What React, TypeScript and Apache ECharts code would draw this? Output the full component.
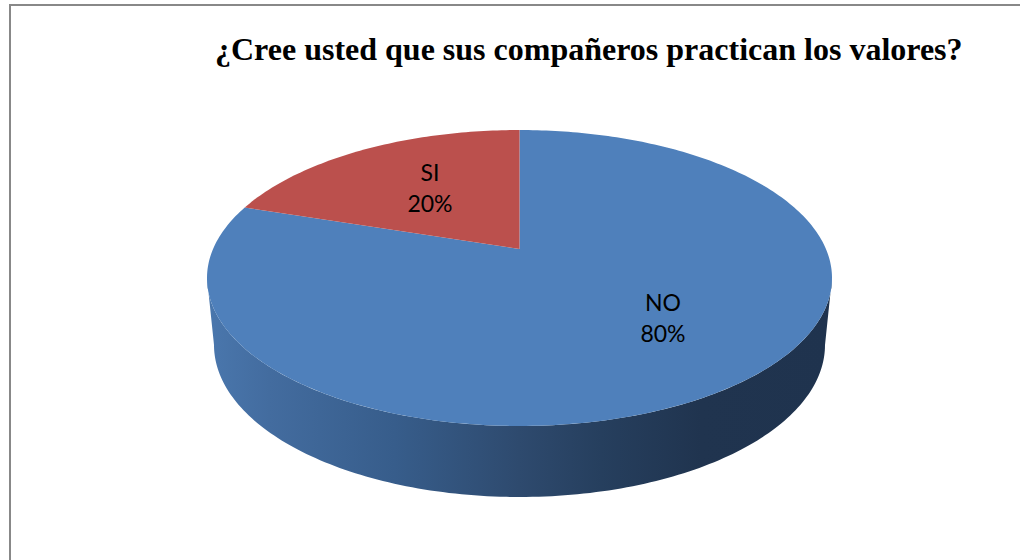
import React, { useEffect, useRef } from "react";
import * as echarts from "echarts";

const titleText = "¿Cree usted que sus compañeros practican los valores?";
const categories = ["NO", "SI"];
const shares = [80, 20];
const sliceColors = ["#4f80bb", "#bb504d"];

// Geometry of the tilted disc
const TOP = { cx: 519.5, cy: 278, rx: 312.5, ry: 148 };
const BOTTOM = { cx: 519.5, cy: 345, rx: 305.5, ry: 152 };
const TILT = -0.196; // where the disc's centre falls inside the ellipse
const LABEL_AT: Record<string, [number, number]> = { NO: [663, 317], SI: [430, 187] };

type Ell = typeof TOP;

function project(theta: number, r: number, e: Ell): [number, number] {
  const X = r * Math.sin(theta);
  const Y = -r * Math.cos(theta);
  const d = 1 + TILT * Y;
  const u = (X * Math.sqrt(1 - TILT * TILT)) / d;
  const v = (Y + TILT) / d;
  return [e.cx + u * e.rx, e.cy + v * e.ry];
}

function arc(a: number, b: number, e: Ell): [number, number][] {
  const n = Math.max(2, Math.ceil((Math.abs(b - a) * 180) / Math.PI));
  const pts: [number, number][] = [];
  for (let i = 0; i <= n; i++) pts.push(project(a + ((b - a) * i) / n, 1, e));
  return pts;
}

const total = shares.reduce((s, v) => s + v, 0);

function renderSlice(params: any) {
  const i = params.dataIndex;
  const before = shares.slice(0, i).reduce((s, v) => s + v, 0);
  const a = (before / total) * 2 * Math.PI;
  const b = ((before + shares[i]) / total) * 2 * Math.PI;
  const children: any[] = [];

  const frontA = Math.acos(TILT);
  const frontB = 2 * Math.PI - frontA;
  const wa = Math.max(a, frontA);
  const wb = Math.min(b, frontB);
  if (wb > wa) {
    const points = [...arc(wa, wb, TOP), ...arc(wa, wb, BOTTOM).reverse()];
    children.push({
      type: "polygon",
      shape: { points },
      style: {
        fill: new echarts.graphic.LinearGradient(0, 0, 1, 0, [
          { offset: 0, color: "#4a77ad" },
          { offset: 0.1, color: "#436c9f" },
          { offset: 0.3, color: "#375d8b" },
          { offset: 0.5, color: "#2e4a6e" },
          { offset: 0.63, color: "#263f5e" },
          { offset: 0.79, color: "#20344f" },
          { offset: 1, color: "#1f334e" },
        ]),
      },
    });
  }

  children.push({
    type: "polygon",
    shape: { points: [project(0, 0, TOP), ...arc(a, b, TOP)] },
    style: { fill: sliceColors[i] },
  });

  const name = categories[i];
  const [lx, ly] = LABEL_AT[name];
  children.push({
    type: "text",
    style: {
      text: `${name}\n${Math.round((shares[i] / total) * 100)}%`,
      x: lx,
      y: ly,
      align: "center",
      verticalAlign: "middle",
      fontFamily: "Lato",
      fontSize: 23,
      lineHeight: 31,
      fill: "#000000",
    },
  });
  return { type: "group", children };
}

export default function App() {
  const ref = useRef<HTMLDivElement>(null);
  useEffect(() => {
    const chart = echarts.init(ref.current!, null, { renderer: "svg" });
    chart.setOption({
      animation: false,
      backgroundColor: "#ffffff",
      title: {
        text: titleText,
        left: 215,
        top: 33,
        padding: 0,
        textStyle: {
          fontFamily: "Liberation Serif",
          fontWeight: "bold",
          fontSize: 32,
          color: "#000000",
        },
      },
      graphic: [
        { type: "line", shape: { x1: 10, y1: 5, x2: 1020, y2: 5 }, style: { stroke: "#888888", lineWidth: 2 } },
        { type: "line", shape: { x1: 10, y1: 4, x2: 10, y2: 560 }, style: { stroke: "#888888", lineWidth: 2 } },
      ],
      series: [
        {
          type: "custom",
          coordinateSystem: "none",
          renderItem: renderSlice,
          data: categories.map((name, i) => ({ name, value: shares[i] })),
        },
      ],
    });
    return () => chart.dispose();
  }, []);
  return <div ref={ref} style={{ position: "absolute", left: 0, top: 0, width: 1020, height: 560 }} />;
}
